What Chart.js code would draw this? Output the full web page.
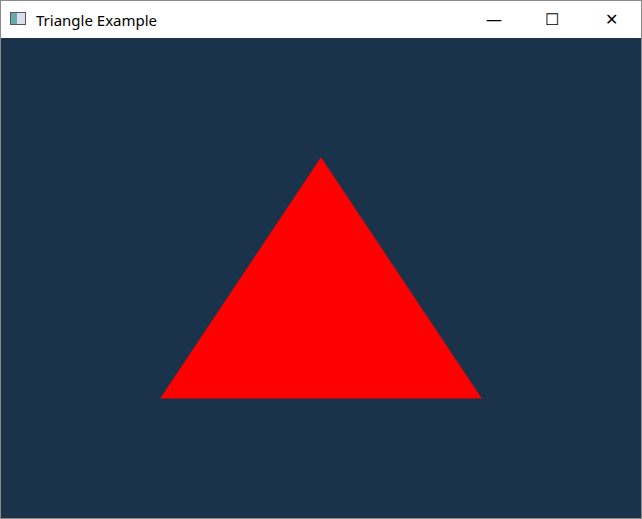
<!DOCTYPE html>
<html>
<head>
<meta charset="utf-8">
<script src="https://cdn.jsdelivr.net/npm/chart.js@4"></script>
<style>
  html, body { margin: 0; padding: 0; width: 642px; height: 519px; overflow: hidden; background: #fff; }
  .win { position: absolute; left: 0; top: 0; width: 640px; height: 517px; border: 1px solid #8a8a8a; }
  .bar { height: 37px; background: #fff; position: relative; font-family: "Noto Sans", "Open Sans", sans-serif; font-size: 15px; color: #000; }
  .bar .icon { position: absolute; left: 9px; top: 11px; width: 14px; height: 11px; border: 1px solid #556; background: linear-gradient(90deg, #6aa 0 45%, #dde 45%); }
  .bar .title { position: absolute; left: 35px; top: 9px; }
  .bar .btn { position: absolute; top: 0; width: 58px; height: 37px; text-align: center; line-height: 37px; font-size: 16px; }
  .area { position: absolute; left: 0; top: 37px; width: 640px; height: 480px; background: #1a334a; }
</style>
</head>
<body>
<div class="win">
  <div class="bar">
    <div class="icon"></div>
    <div class="title">Triangle Example</div>
    <div class="btn" style="left:464px">&#x2014;</div>
    <div class="btn" style="left:522px">&#x2610;</div>
    <div class="btn" style="left:581px">&#x2715;</div>
  </div>
  <div class="area"><canvas id="tri" width="640" height="480"></canvas></div>
</div>
<script>
// triangle vertices in normalised device coords (-1..1)
const xs = [-0.5, 0.5, 0.0, -0.5];
const ys = [-0.5, -0.5, 0.5, -0.5];

const points = xs.map((x, i) => ({ x: x, y: ys[i] }));

new Chart(document.getElementById('tri').getContext('2d'), {
  type: 'scatter',
  data: {
    datasets: [{
      data: points,
      showLine: true,
      fill: 'shape',
      backgroundColor: '#ff0000',
      borderColor: '#ff0000',
      borderWidth: 1,
      pointRadius: 0,
      tension: 0
    }]
  },
  options: {
    responsive: false,
    animation: false,
    layout: { padding: 0 },
    plugins: { legend: { display: false }, tooltip: { enabled: false } },
    scales: {
      x: { type: 'linear', min: -1, max: 1, display: false },
      y: { type: 'linear', min: -1, max: 1, display: false }
    }
  }
});
</script>
</body>
</html>
